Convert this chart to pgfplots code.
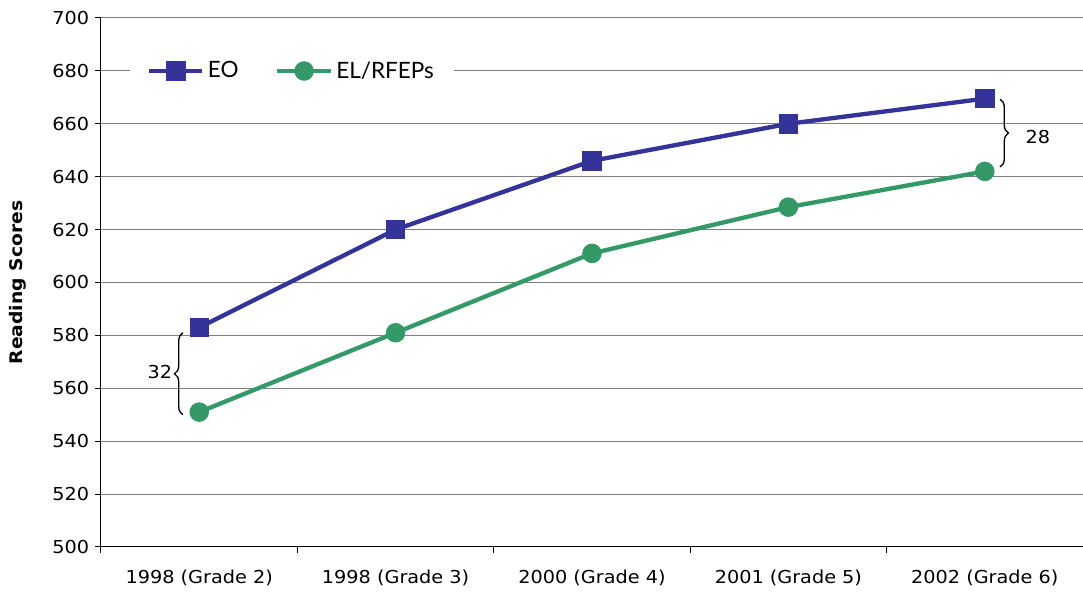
\documentclass[border=0pt]{standalone}
\usepackage{pgfplots}
\pgfplotsset{compat=1.18}
\usepackage{fontspec}
\setmainfont{DejaVu Sans}[FakeStretch=1.08]
\newfontfamily\legfont{Lato}
\usetikzlibrary{decorations.pathreplacing}
\definecolor{eoblue}{HTML}{333399}
\definecolor{elgreen}{HTML}{339966}
\begin{document}
\begin{tikzpicture}
\useasboundingbox (-60.6pt,-27.0pt) rectangle (589.2pt,328.2pt);
\begin{axis}[
  at={(0pt,0pt)}, anchor=south west,
  scale only axis, width=589.2pt, height=317.4pt,
  xmin=-0.5, xmax=4.5, ymin=500, ymax=700,
  ytick={500,520,...,700},
  ymajorgrids, grid style={draw=black!50, line width=0.6pt},
  axis lines=left, axis line style={-, line width=0.6pt, black},
  xtick={-0.5,0.5,...,4.5}, xticklabels={},
  extra x ticks={0,1,2,3,4},
  extra x tick labels={1998 (Grade 2),1998 (Grade 3),2000 (Grade 4),2001 (Grade 5),2002 (Grade 6)},
  extra x tick style={major tick length=0pt, grid=none, xticklabel style={yshift=-10pt}},
  tick align=outside, major tick length=3.6pt, tick style={black, line width=0.6pt},
  ticklabel style={font=\fontsize{10.7}{13}\selectfont},
  /pgf/number format/assume math mode=true,
  ylabel={Reading Scores},
  ylabel style={font=\bfseries\fontsize{10.4}{12}\selectfont, at={(axis description cs:-0.0845,0.5)}, anchor=center},
  legend columns=2,
  legend style={at={(axis description cs:0.0295,0.8998)}, anchor=west, draw=none, fill=white,
    font=\legfont\fontsize{13.5}{15}\selectfont, inner xsep=10pt, inner ysep=2pt,
    /tikz/every even column/.append style={column sep=20pt}},
  legend image code/.code={\draw[mark repeat=2,mark phase=2] plot coordinates {(0pt,0pt)(16pt,0pt)(32pt,0pt)};},
]
\addplot[eoblue, line width=2.6pt, mark=square*, mark size=5.5pt, mark options={solid, line width=0.5pt}]
  coordinates {(0,583) (1,620) (2,646) (3,660) (4,669.5)};
\addlegendentry{EO}
\addplot[elgreen, line width=2.6pt, mark=*, mark size=5.6pt, mark options={solid, line width=0.5pt}]
  coordinates {(0,551) (1,581) (2,611) (3,628.5) (4,642)};
\addlegendentry{EL/RFEPs}
\draw[line width=0.8pt, decorate, decoration={brace, amplitude=5pt}] (axis cs:-0.083,550) -- (axis cs:-0.083,581);
\draw[line width=0.8pt, decorate, decoration={brace, amplitude=5pt}] (axis cs:4.078,669.3) -- (axis cs:4.078,643.7);
\node[font=\fontsize{10.7}{13}\selectfont] at (axis cs:-0.2,566) {32};
\node[font=\fontsize{10.7}{13}\selectfont] at (axis cs:4.27,655) {28};
\end{axis}
\end{tikzpicture}
\end{document}
